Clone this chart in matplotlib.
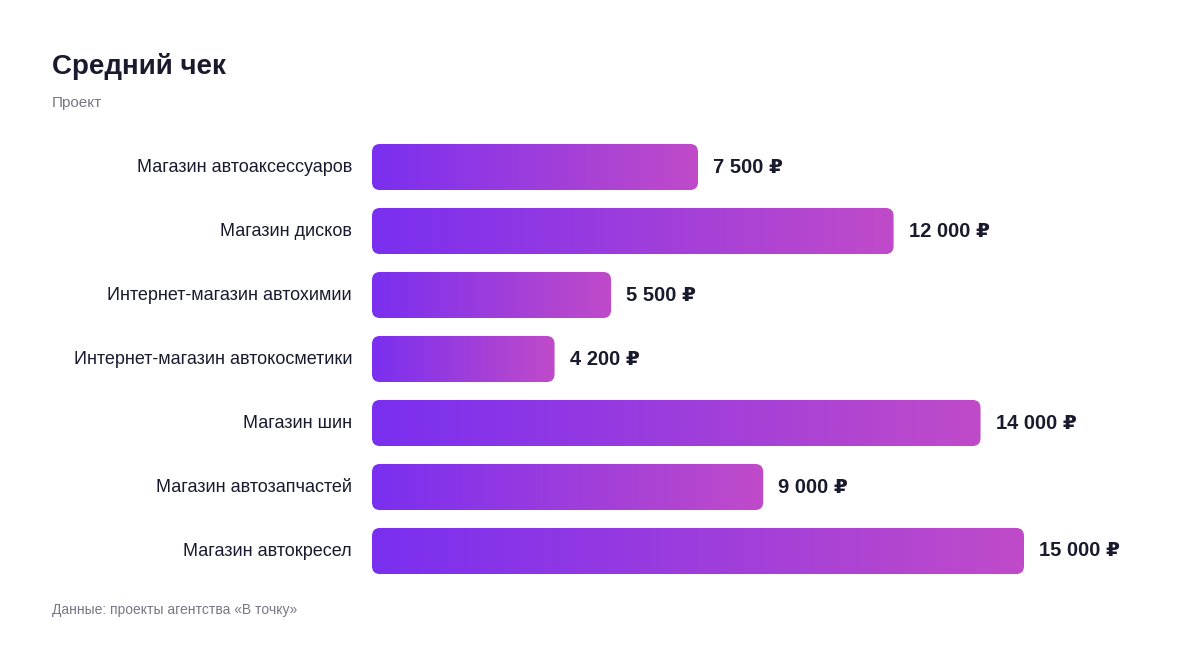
import matplotlib
matplotlib.use('Agg')
import matplotlib.pyplot as plt
from matplotlib.patches import FancyBboxPatch
from matplotlib.colors import LinearSegmentedColormap
import numpy as np

plt.rcParams['font.family'] = ['Liberation Sans', 'DejaVu Sans']

categories = ['Магазин автоаксессуаров', 'Магазин дисков', 'Интернет-магазин автохимии',
              'Интернет-магазин автокосметики', 'Магазин шин', 'Магазин автозапчастей',
              'Магазин автокресел']
values = [7500, 12000, 5500, 4200, 14000, 9000, 15000]
labels = ['7 500 ₽', '12 000 ₽', '5 500 ₽', '4 200 ₽', '14 000 ₽', '9 000 ₽', '15 000 ₽']

W, H = 1200, 648
fig = plt.figure(figsize=(12, 6.48), dpi=100)
fig.patch.set_facecolor('white')
ax = fig.add_axes([372 / W, 1 - 583 / H, 652 / W, 448 / H])
ax.set_xlim(0, 15000)
ax.set_ylim(6.5, -0.5)
ax.axis('off')

cmap = LinearSegmentedColormap.from_list('g', ['#7a2ff0', '#c04bc9'])
grad = np.linspace(0, 1, 256).reshape(1, -1)
bh = 0.72
px_x = 15000 / 652
px_y = 1 / 64
r = 8 * px_x
for i, (v, lab) in enumerate(zip(values, labels)):
    box = FancyBboxPatch((0, i - bh / 2), v, bh, boxstyle=f'round,pad=0,rounding_size={r}',
                         mutation_aspect=px_y / px_x, facecolor='none', edgecolor='none')
    ax.add_patch(box)
    im = ax.imshow(grad, cmap=cmap, aspect='auto', extent=(0, v, i + bh / 2, i - bh / 2),
                   interpolation='bilinear')
    im.set_clip_path(box)
    ax.text(v + 15 * px_x, i, lab, va='center', ha='left', fontsize=14.5,
            fontweight='bold', color='#1a1a2e')
    ax.text(-20 * px_x, i, categories[i], va='center', ha='right', fontsize=13,
            color='#1a1a2e')
ax.set_xlim(0, 15000)
ax.set_ylim(6.5, -0.5)

fig.text(52 / W, 1 - 66 / H, 'Средний чек', fontsize=20, fontweight='bold',
         color='#1a1a2e', va='center')
fig.text(52 / W, 1 - 103 / H, 'Проект', fontsize=11, color='#777788', va='center')
fig.text(52 / W, 1 - 610 / H, 'Данные: проекты агентства «В точку»', fontsize=10,
         color='#777788', va='center')

fig.savefig('out.png', dpi=100, facecolor='white')
